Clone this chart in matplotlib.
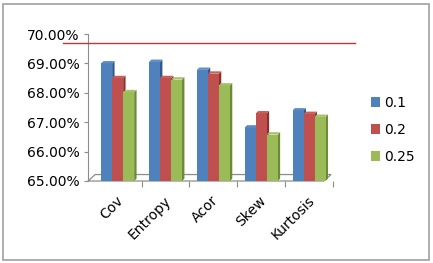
import numpy as np
import matplotlib
matplotlib.use("Agg")
import matplotlib.pyplot as plt
from matplotlib.patches import Polygon, Rectangle, Patch
from matplotlib.lines import Line2D
from matplotlib.ticker import FuncFormatter

# data
categories = ['Cov', 'Entropy', 'Acor', 'Skew', 'Kurtosis']
series_names = ['0.1', '0.2', '0.25']
vals_01 = [69.00, 69.05, 68.78, 66.82, 67.40]
vals_02 = [68.50, 68.50, 68.65, 67.30, 67.28]
vals_025 = [68.02, 68.45, 68.25, 66.58, 67.18]

front_cols = ['#4F81BD', '#C0504D', '#9BBB59']
side_cols = ['#2C5A8F', '#8E2F2C', '#6B8A34']
top_cols = ['#5F8CC6', '#C95E5B', '#A5C26A']

W, H = 433, 263
fig = plt.figure(figsize=(W / 100, H / 100), dpi=100)
ax = fig.add_axes([88 / W, (H - 181) / H, (333 - 88) / W, (181 - 34) / H])

ymin, ymax = 65, 70
ax.set_ylim(ymin, ymax)
ax.set_xlim(-0.62, 4.46)

w = 0.23
dx = 0.05   # depth offset in x units
dy = 0.08   # depth offset in y units
x = np.arange(len(categories))

all_vals = [vals_01, vals_02, vals_025]
for i in range(len(categories)):
    for k, vals in enumerate(all_vals):
        x0 = x[i] + (k - 1) * w - w / 2
        v = vals[i]
        z = 3 + k
        ax.bar(x0, v - ymin, width=w, bottom=ymin, align='edge',
               color=front_cols[k], linewidth=0, zorder=z)
        side = [(x0 + w, ymin), (x0 + w + dx, ymin + dy),
                (x0 + w + dx, v + dy), (x0 + w, v)]
        ax.add_patch(Polygon(side, closed=True, color=side_cols[k],
                             linewidth=0, zorder=z - 0.5))
        top = [(x0, v), (x0 + dx, v + dy), (x0 + w + dx, v + dy), (x0 + w, v)]
        ax.add_patch(Polygon(top, closed=True, color=top_cols[k],
                             linewidth=0, zorder=z))

# floor
floor = [(-0.62, ymin), (-0.62 + 0.15, ymin + 0.22),
         (4.46, ymin + 0.22), (4.46 - 0.15, ymin)]
ax.add_patch(Polygon(floor, closed=True, facecolor='white',
                     edgecolor='#8C8C8C', linewidth=0.9, zorder=1,
                     clip_on=False))

for s in ['top', 'right', 'bottom']:
    ax.spines[s].set_visible(False)
ax.spines['left'].set_color('#8C8C8C')

ax.set_yticks(np.arange(65, 70.5, 1))
ax.yaxis.set_major_formatter(FuncFormatter(lambda v, p: f'{v:.2f}%'))
ax.tick_params(axis='y', length=3, color='#8C8C8C', labelsize=10, pad=3)

ax.set_xticks(x + 0.5, minor=False)
ax.set_xticklabels([''] * len(categories))
ax.tick_params(axis='x', length=4, color='#8C8C8C', direction='out')
for i, c in enumerate(categories):
    ax.text(x[i] - 0.04, ymin - 0.42, c, rotation=45, ha='right', va='top',
            fontsize=10, rotation_mode='anchor')

# red horizontal line
fig.add_artist(Line2D([63 / W, 355 / W], [(H - 43) / H, (H - 43) / H],
                      color='#B83A36', linewidth=1.0))

handles = [Patch(facecolor=c, edgecolor='none') for c in front_cols]
fig.legend(handles, series_names, loc='center left',
           bbox_to_anchor=(358 / W, (H - 130) / H), frameon=False,
           fontsize=10, handlelength=0.7, handleheight=0.7,
           handletextpad=0.3, labelspacing=0.95)

fig.add_artist(Rectangle((3 / W, 3 / H), (W - 7) / W, (H - 7) / H,
                         fill=False, edgecolor='#A0A0A0', linewidth=1.2))

fig.savefig('out.png', dpi=100)
